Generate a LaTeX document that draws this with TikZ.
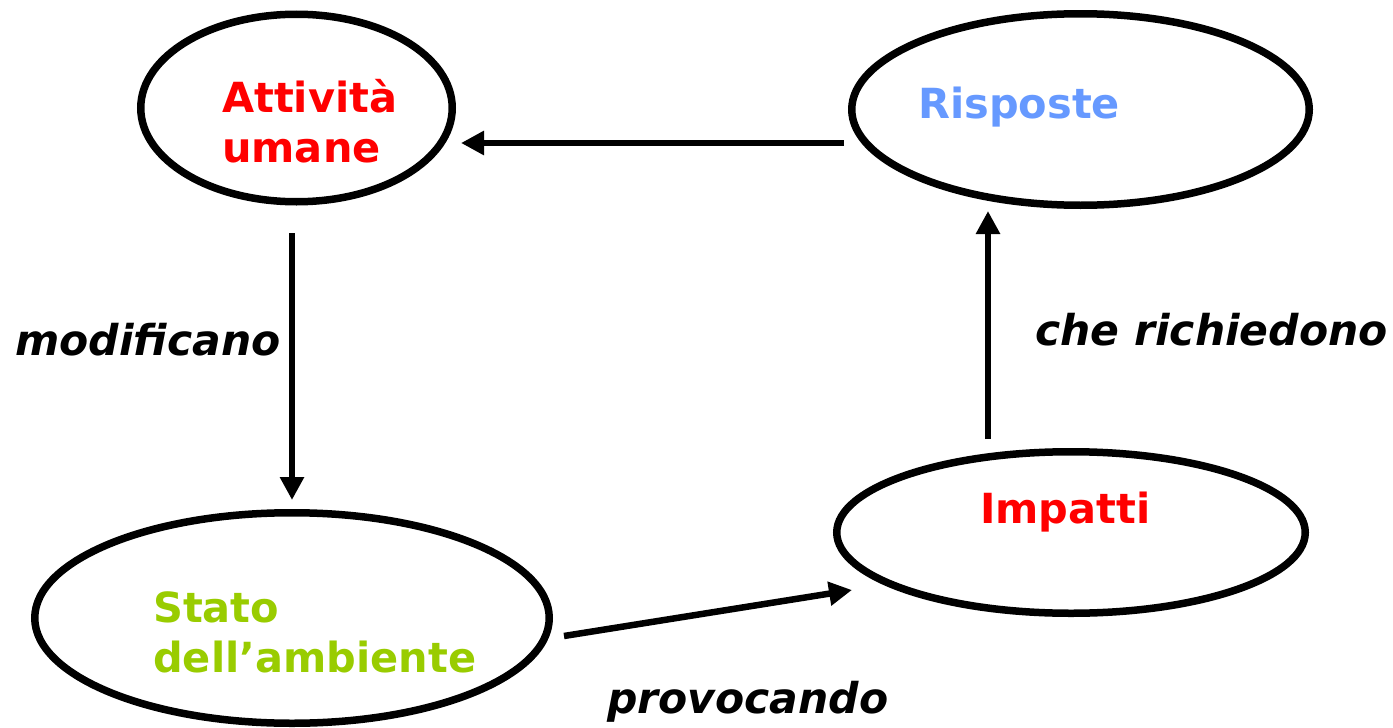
\documentclass[tikz,border=0pt]{standalone}
\usepackage{fontspec}
\setmainfont{DejaVu Sans}
\usetikzlibrary{shapes.geometric,arrows.meta}
\definecolor{cred}{HTML}{FF0000}
\definecolor{cblue}{HTML}{6699FF}
\definecolor{cgreen}{HTML}{99CC00}
\tikzset{
  oval/.style={ellipse, draw=black, line width=7.5pt, inner sep=0pt},
  lbl/.style={anchor=base west, inner sep=0pt, font=\fontsize{41.5}{50}\selectfont\bfseries},
  edgelbl/.style={anchor=base west, inner sep=0pt, font=\fontsize{42.5}{50}\selectfont\bfseries\itshape},
  arr/.style={line width=6.5pt, -{Triangle[length=23pt,width=23pt]}}
}
\begin{document}
\begin{tikzpicture}[x=1pt,y=-1pt]
\useasboundingbox (0,0) rectangle (1393,728);
\node[oval, minimum width=311.5pt, minimum height=187.5pt] (att) at (296.5,108) {};
\node[oval, minimum width=457.5pt, minimum height=191.5pt] (ris) at (1080.5,109.5) {};
\node[oval, minimum width=514.5pt, minimum height=210.5pt] (sta) at (292,618) {};
\node[oval, minimum width=468.5pt, minimum height=161.5pt] (imp) at (1071,532.5) {};
\node[lbl, text=cred, align=left] (tatt) at (222,162) {Attività\\umane};
\node[lbl, text=cblue] (tris) at (918,118) {Risposte};
\node[lbl, text=cgreen, align=left] (tsta) at (153,672) {Stato\\dell’ambiente};
\node[lbl, text=cred] (timp) at (980,523) {Impatti};
\node[edgelbl] (lmod) at (15,355) {modificano};
\node[edgelbl] (lche) at (1035,345) {che richiedono};
\node[edgelbl] (lpro) at (607,713) {provocando};
\draw[arr] ([shift={(-4,33.5)}]ris.west) -- ([shift={(5,35)}]att.east);
\draw[arr] ([shift={(-4.5,27.5)}]att.south) -- ([shift={(0,-9)}]sta.north);
\draw[arr] ([shift={(11,18)}]sta.east) -- ([shift={(19,57.5)}]imp.west);
\draw[arr] ([shift={(-83,-9)}]imp.north) -- ([shift={(-92.5,2)}]ris.south);
\end{tikzpicture}
\end{document}
